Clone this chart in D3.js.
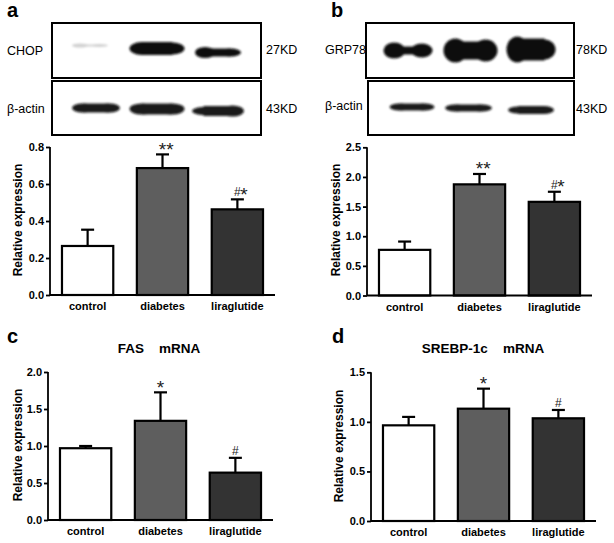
<!DOCTYPE html>
<html><head><meta charset="utf-8">
<script src="https://cdn.jsdelivr.net/npm/d3@7"></script>
<style>body{margin:0;background:#fff}svg{display:block}</style>
</head><body>
<script>
// ---------- data ----------
const categories = ["control", "diabetes", "liraglutide"];
const fills = ["#ffffff", "#5e5e5e", "#333333"];

const chopMean = [0.265, 0.686, 0.463];
const chopErr  = [0.353, 0.760, 0.517];
const chopSig  = ["", "**", "#*"];
const chopTicks = [0, 0.2, 0.4, 0.6, 0.8];

const grpMean = [0.77, 1.875, 1.58];
const grpErr  = [0.91, 2.05, 1.75];
const grpSig  = ["", "**", "#*"];
const grpTicks = [0, 0.5, 1.0, 1.5, 2.0, 2.5];

const fasMean = [0.97, 1.34, 0.64];
const fasErr  = [1.00, 1.725, 0.84];
const fasSig  = ["", "*", "#"];
const fasTicks = [0, 0.5, 1.0, 1.5, 2.0];

const srebpMean = [0.965, 1.133, 1.036];
const srebpErr  = [1.05, 1.335, 1.12];
const srebpSig  = ["", "*", "#"];
const srebpTicks = [0, 0.5, 1.0, 1.5];

// western blot band appearance per lane: width, left/mid/right thickness, vertical shift, darkness
const chopBands  = [{w:36,hl:4,hm:2,hr:3,dy:-5,o:0.18,dx:-6},{w:55,hl:13,hm:13,hr:12,dy:-2,o:1,dx:0},{w:46,hl:11,hm:8,hr:8,dy:2,o:1,dx:0}];
const actinABands = [{w:48,hl:9,hm:9,hr:9,dy:0,o:0.95,dx:0},{w:55,hl:11,hm:11,hr:11,dy:1,o:0.95,dx:0},{w:52,hl:8,hm:10,hr:11,dy:3,o:0.95,dx:0}];
const grpBands   = [{w:49,hl:16,hm:8,hr:14,dy:0,o:1,dx:-2},{w:54,hl:24,hm:18,hr:22,dy:0,o:1,dx:0},{w:49,hl:26,hm:22,hr:20,dy:-1,o:1,dx:0}];
const actinBBands = [{w:45,hl:7,hm:7,hr:7,dy:-1,o:0.95,dx:0},{w:47,hl:7,hm:7,hr:7,dy:0,o:0.95,dx:-3},{w:46,hl:7,hm:8,hr:8,dy:2,o:0.95,dx:0}];

// ---------- drawing ----------
const F = "Liberation Sans, Arial, Helvetica, sans-serif";
const svg = d3.select("body").append("svg").attr("width", 614).attr("height", 543)
  .attr("font-family", F).style("font-family", F);
svg.append("rect").attr("width", 614).attr("height", 543).attr("fill", "#fff");
const defs = svg.append("defs");
defs.append("filter").attr("id", "blur").attr("x", "-20%").attr("y", "-50%").attr("width", "140%").attr("height", "200%")
  .append("feGaussianBlur").attr("stdDeviation", 1.3);

function panelLetter(x, y, t) {
  svg.append("text").attr("x", x).attr("y", y).attr("font-size", 20).attr("font-weight", "bold").text(t);
}

function blot(box, bands, label, kd, labelX, kdX, labelY, kdY) {
  const [x0, y0, x1, y1] = box;
  svg.append("rect").attr("x", x0).attr("y", y0).attr("width", x1 - x0).attr("height", y1 - y0)
    .attr("fill", "#fff").attr("stroke", "#000").attr("stroke-width", 2);
  const lane = d3.scalePoint().domain(categories).range([x0 + 44, x1 - 43]);
  const cy = (y0 + y1) / 2;
  const g = svg.append("g").attr("filter", "url(#blur)");
  bands.forEach((b, i) => {
    const cx = lane(categories[i]) + b.dx, yy = cy + b.dy;
    const bg = g.append("g").attr("opacity", b.o).attr("fill", "#111");
    const r = b.w * 0.22;
    bg.append("ellipse").attr("cx", cx - b.w / 2 + r).attr("cy", yy).attr("rx", r).attr("ry", b.hl / 2);
    bg.append("ellipse").attr("cx", cx + b.w / 2 - r).attr("cy", yy).attr("rx", r).attr("ry", b.hr / 2);
    bg.append("rect").attr("x", cx - b.w / 2 + r).attr("y", yy - b.hm / 2).attr("width", b.w - 2 * r).attr("height", b.hm);
  });
  svg.append("text").attr("x", labelX).attr("y", labelY).attr("font-size", 12.5).text(label);
  svg.append("text").attr("x", kdX).attr("y", kdY).attr("font-size", 12.5).text(kd);
}

function barPanel(o) {
  const x = d3.scaleBand().domain(categories).range([o.ax, o.ax + 225]).paddingInner(0.315).paddingOuter(0.16);
  const y = d3.scaleLinear().domain([0, o.max]).range([o.bottom, o.top]);
  const g = svg.append("g");
  const data = categories.map((c, i) => ({c, m: o.mean[i], e: o.err[i], s: o.sig[i], f: fills[i]}));
  const cx = d => x(d.c) + x.bandwidth() / 2;
  // error bars (above bar only)
  g.selectAll(".eb").data(data).join("line")
    .attr("x1", cx).attr("x2", cx)
    .attr("y1", d => y(d.m)).attr("y2", d => y(d.e)).attr("stroke", "#000").attr("stroke-width", 2.2);
  g.selectAll(".cap").data(data).join("line")
    .attr("x1", d => cx(d) - 6.5).attr("x2", d => cx(d) + 6.5)
    .attr("y1", d => y(d.e)).attr("y2", d => y(d.e)).attr("stroke", "#000").attr("stroke-width", 2.2);
  g.selectAll(".bar").data(data).join("rect")
    .attr("x", d => x(d.c)).attr("width", x.bandwidth())
    .attr("y", d => y(d.m)).attr("height", d => y(0) - y(d.m))
    .attr("fill", d => d.f).attr("stroke", "#000").attr("stroke-width", 2.2);
  // significance marks
  data.forEach(d => {
    if (!d.s) return;
    const t = g.append("text").attr("x", cx(d)).attr("y", y(d.e) - 3).attr("text-anchor", "middle").attr("fill", "#222");
    [...d.s].forEach(ch => {
      t.append("tspan").attr("font-size", ch === "*" ? 19 : 12)
        .attr("y", ch === "*" ? y(d.e) + 1.5 : y(d.e) - 3.2).text(ch);
    });
  });
  // axes
  const ya = g.append("g").attr("transform", `translate(${o.ax},0)`)
    .call(d3.axisLeft(y).tickValues(o.ticks).tickSize(4).tickPadding(2).tickFormat(d3.format(".1f")));
  ya.select(".domain").attr("stroke-width", 1.8).attr("d", `M0,${o.top}V${o.bottom}`);
  ya.selectAll(".tick line").attr("stroke-width", 1.8);
  ya.selectAll(".tick text").attr("font-size", 11).attr("font-weight", "bold").attr("font-family", F).attr("fill", "#000");
  g.append("line").attr("x1", o.ax).attr("x2", o.ax + 225).attr("y1", o.bottom).attr("y2", o.bottom)
    .attr("stroke", "#000").attr("stroke-width", 1.8);
  g.selectAll(".xl").data(data).join("text")
    .attr("x", cx).attr("y", o.bottom + 15).attr("text-anchor", "middle")
    .attr("font-size", 11).attr("font-weight", "bold").text(d => d.c);
  g.append("text").attr("transform", `translate(${o.tx},${o.ty}) rotate(-90)`).attr("text-anchor", "middle")
    .attr("font-size", 12).attr("font-weight", "bold").text("Relative expression");
  if (o.title) {
    g.append("text").attr("x", o.titleX).attr("y", o.top - 19).attr("text-anchor", "middle")
      .attr("font-size", 13.5).attr("font-weight", "bold").attr("xml:space", "preserve").style("white-space", "pre").text(o.title);
  }
}

// panel a
panelLetter(7, 17, "a");
blot([52, 23, 261, 78], chopBands, "CHOP", "27KD", 7, 266, 55, 54);
blot([52, 81, 261, 135], actinABands, "β-actin", "43KD", 7, 266, 113, 113);
barPanel({ax: 50, top: 147, bottom: 295, max: 0.8, ticks: chopTicks, mean: chopMean, err: chopErr, sig: chopSig, tx: 22, ty: 220});

// panel b
panelLetter(331, 17, "b");
blot([366, 23, 574, 78], grpBands, "GRP78", "78KD", 325, 576, 54, 54);
blot([368, 81, 574, 135], actinBBands, "β-actin", "43KD", 325, 576, 110, 113);
barPanel({ax: 367, top: 147.3, bottom: 295.5, max: 2.5, ticks: grpTicks, mean: grpMean, err: grpErr, sig: grpSig, tx: 340, ty: 220});

// panel c
panelLetter(7, 343, "c");
barPanel({ax: 48, top: 372, bottom: 520, max: 2.0, ticks: fasTicks, mean: fasMean, err: fasErr, sig: fasSig, tx: 22, ty: 445, title: "FAS    mRNA", titleX: 159});

// panel d
panelLetter(332, 343, "d");
barPanel({ax: 371, top: 372.3, bottom: 521, max: 1.5, ticks: srebpTicks, mean: srebpMean, err: srebpErr, sig: srebpSig, tx: 343, ty: 446, title: "SREBP-1c    mRNA", titleX: 483});
</script>
</body></html>
